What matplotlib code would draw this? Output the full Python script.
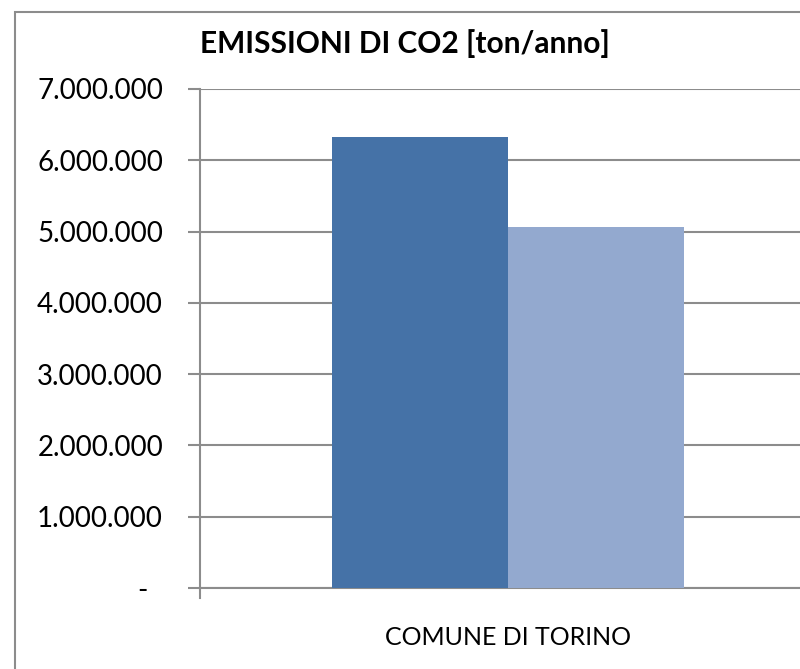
import matplotlib.pyplot as plt
from matplotlib.patches import Rectangle
from matplotlib.ticker import FuncFormatter

plt.rcParams['font.family'] = ['Lato', 'DejaVu Sans']

category = "COMUNE DI TORINO"
series_values = [6320000, 5060000]
series_colors = ["#4572A7", "#93A9CF"]
y_ticks = [0, 1000000, 2000000, 3000000, 4000000, 5000000, 6000000, 7000000]


def fmt(v, pos):
    if v == 0:
        return "-  "
    return f"{int(v):,}".replace(",", ".")


fig = plt.figure(figsize=(8, 6.69), dpi=100)
ax = fig.add_axes([0.25, 0.121, 0.77, 0.746])

# outer chart border (only left/top visible in the original)
fig.patches.append(Rectangle((15 / 800, -0.1), 1.2, 1 - 12 / 669 + 0.1,
                             transform=fig.transFigure, fill=False,
                             edgecolor="#8c8c8c", linewidth=1.5))

width = 0.285
offsets = [-width / 2, width / 2]
for val, col, off in zip(series_values, series_colors, offsets):
    ax.bar(0.5 + off, val, width=width, color=col, zorder=3)

ax.set_xlim(0, 1)
ax.set_ylim(0, 7000000)
ax.set_yticks(y_ticks)
ax.yaxis.set_major_formatter(FuncFormatter(fmt))
ax.yaxis.grid(True, color="#8c8c8c", linewidth=1.5, zorder=0)
ax.set_axisbelow(True)

ax.set_xticks([0.5])
ax.set_xticklabels([category])
ax.tick_params(axis="x", length=0, pad=27, labelsize=18)
ax.tick_params(axis="y", length=8.6, width=1.5, color="#8c8c8c",
               labelsize=20, pad=18)
ax.plot([0, 0], [-0.02, 0], transform=ax.transAxes, color="#8c8c8c",
        linewidth=1.5, clip_on=False)

for side in ["top", "right"]:
    ax.spines[side].set_visible(False)
for side in ["left", "bottom"]:
    ax.spines[side].set_color("#8c8c8c")
    ax.spines[side].set_linewidth(1.5)

fig.text(200 / 800, 1 - 44 / 669, "EMISSIONI DI CO2 [ton/anno]",
         fontsize=21.5, fontweight="bold", va="center", ha="left")

fig.savefig("out.png", dpi=100)
